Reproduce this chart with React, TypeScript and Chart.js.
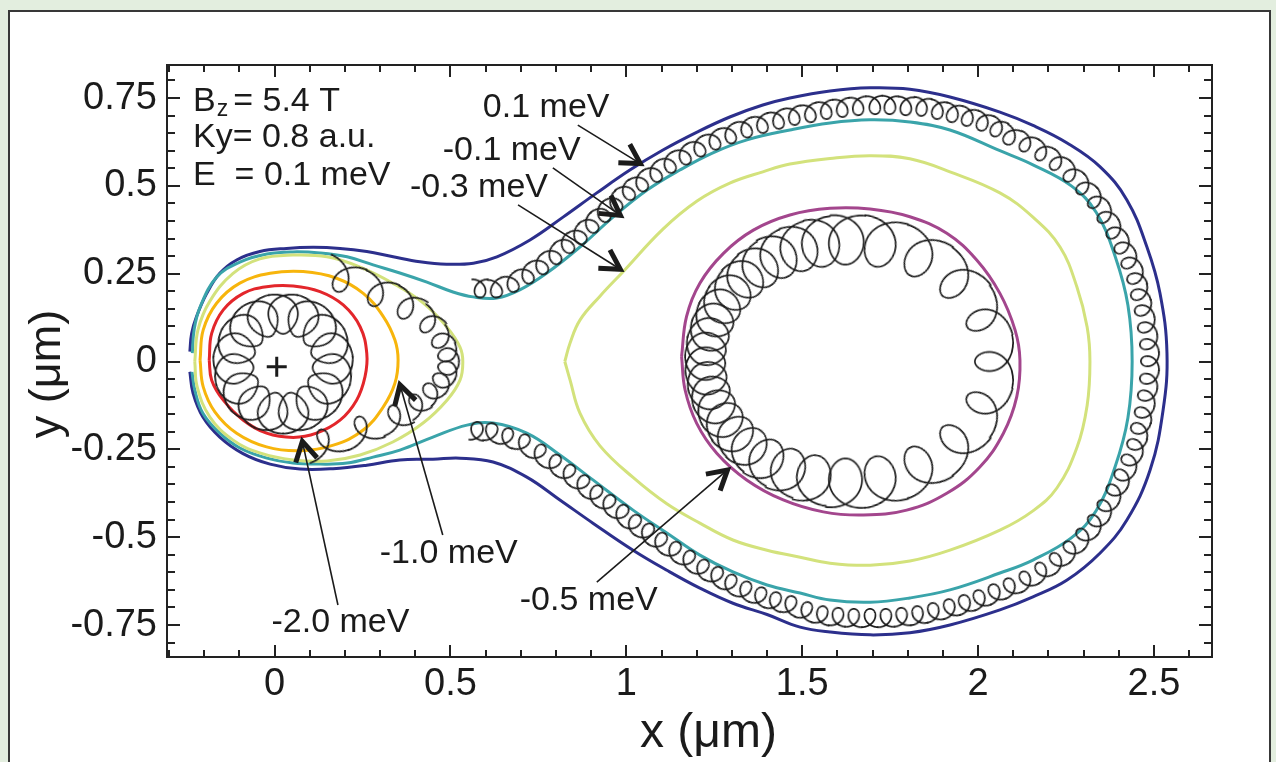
import React, { useEffect, useRef } from 'react';
import { Chart, registerables } from 'chart.js';

Chart.register(...registerables);

type Pt = [number, number];

// ---------------- axes ----------------
const xRange: Pt = [-0.306, 2.665];
const yRange: Pt = [-0.841, 0.844];
const xTickValues = [0, 0.5, 1, 1.5, 2, 2.5];
const yTickValues = [-0.75, -0.5, -0.25, 0, 0.25, 0.5, 0.75];
const xMinorStep = 0.1;
const yMinorStep = 0.05;
const xTitle = 'x (μm)';
const yTitle = 'y (μm)';

// ---------------- equipotential contours (x, y in μm) ----------------
const contourP01: Pt[] = [
  [-0.241, 0.028], [-0.236, 0.08], [-0.222, 0.128], [-0.193, 0.194], [-0.156, 0.251], [-0.108, 0.289],
  [-0.042, 0.313], [0.034, 0.322], [0.11, 0.325], [0.186, 0.322], [0.262, 0.313], [0.337, 0.298],
  [0.413, 0.284], [0.489, 0.277], [0.565, 0.28], [0.632, 0.298], [0.726, 0.346], [0.82, 0.411],
  [0.916, 0.48], [1.01, 0.545], [1.104, 0.602], [1.201, 0.653], [1.294, 0.696], [1.388, 0.73],
  [1.465, 0.75], [1.579, 0.77], [1.693, 0.779], [1.806, 0.775], [1.92, 0.753], [2.062, 0.71],
  [2.156, 0.672], [2.253, 0.622], [2.347, 0.554], [2.423, 0.46], [2.48, 0.326], [2.517, 0.195],
  [2.537, 0.024], [2.526, -0.138], [2.489, -0.309], [2.423, -0.451], [2.347, -0.545], [2.253, -0.622],
  [2.156, -0.67], [2.062, -0.707], [1.92, -0.75], [1.806, -0.772], [1.693, -0.778], [1.579, -0.77],
  [1.494, -0.756], [1.4, -0.72], [1.303, -0.688], [1.209, -0.645], [1.115, -0.594], [1.019, -0.537],
  [0.905, -0.46], [0.811, -0.394], [0.717, -0.329], [0.621, -0.286], [0.527, -0.275], [0.45, -0.278],
  [0.356, -0.28], [0.262, -0.295], [0.166, -0.305], [0.072, -0.306], [-0.013, -0.292], [-0.09, -0.262],
  [-0.156, -0.215], [-0.204, -0.158], [-0.232, -0.09], [-0.241, -0.029],
];

const contourM01: Pt[] = [
  [-0.234, 0.024], [-0.229, 0.09], [-0.212, 0.155], [-0.164, 0.241], [-0.099, 0.283], [-0.022, 0.306],
  [0.052, 0.312], [0.129, 0.309], [0.206, 0.298], [0.28, 0.275], [0.356, 0.252], [0.433, 0.226],
  [0.507, 0.198], [0.564, 0.184], [0.632, 0.181], [0.697, 0.204], [0.774, 0.252], [0.868, 0.326],
  [0.962, 0.411], [1.059, 0.488], [1.152, 0.545], [1.246, 0.594], [1.343, 0.631], [1.465, 0.659],
  [1.579, 0.679], [1.693, 0.688], [1.806, 0.682], [1.92, 0.659], [2.062, 0.6], [2.156, 0.56],
  [2.265, 0.5], [2.336, 0.424], [2.39, 0.298], [2.426, 0.16], [2.438, 0.0], [2.426, -0.16],
  [2.39, -0.298], [2.336, -0.424], [2.265, -0.502], [2.156, -0.565], [2.062, -0.602], [1.92, -0.65],
  [1.806, -0.673], [1.693, -0.685], [1.579, -0.679], [1.494, -0.659], [1.4, -0.636], [1.303, -0.599],
  [1.209, -0.551], [1.115, -0.488], [1.019, -0.423], [0.905, -0.337], [0.811, -0.266], [0.717, -0.204],
  [0.621, -0.175], [0.547, -0.181], [0.45, -0.215], [0.356, -0.252], [0.28, -0.272], [0.206, -0.289],
  [0.129, -0.292], [0.052, -0.289], [-0.022, -0.275], [-0.099, -0.246], [-0.156, -0.204], [-0.204, -0.147],
  [-0.227, -0.081], [-0.235, -0.03],
];

const contourM03Left: Pt[] = [
  [-0.227, 0.0], [-0.218, 0.09], [-0.184, 0.172], [-0.119, 0.25], [-0.042, 0.292], [0.052, 0.303],
  [0.149, 0.298], [0.243, 0.269], [0.336, 0.223], [0.422, 0.167], [0.49, 0.098], [0.527, 0.041],
  [0.535, -0.001], [0.527, -0.053], [0.49, -0.11], [0.422, -0.175], [0.336, -0.229], [0.243, -0.266],
  [0.149, -0.283], [0.052, -0.28], [-0.042, -0.26], [-0.119, -0.223], [-0.184, -0.158], [-0.22, -0.073],
];

const contourM03Right: Pt[] = [
  [0.825, 0.0], [0.84, 0.053], [0.868, 0.118], [0.925, 0.186], [0.99, 0.255], [1.104, 0.377],
  [1.201, 0.457], [1.294, 0.508], [1.388, 0.54], [1.465, 0.562], [1.579, 0.578], [1.693, 0.586],
  [1.806, 0.577], [1.92, 0.54], [2.062, 0.48], [2.156, 0.411], [2.233, 0.326], [2.281, 0.212],
  [2.31, 0.098], [2.318, 0.0], [2.31, -0.125], [2.281, -0.245], [2.224, -0.36], [2.156, -0.425],
  [2.062, -0.48], [1.92, -0.537], [1.806, -0.568], [1.693, -0.58], [1.579, -0.574], [1.494, -0.557],
  [1.4, -0.537], [1.303, -0.508], [1.209, -0.46], [1.115, -0.405], [1.019, -0.33], [0.925, -0.24],
  [0.868, -0.147], [0.84, -0.053],
];

const contourM05: Pt[] = [
  [1.157, 0.014], [1.171, 0.128], [1.209, 0.223], [1.276, 0.308], [1.361, 0.374], [1.465, 0.417],
  [1.579, 0.436], [1.693, 0.434], [1.806, 0.412], [1.911, 0.365], [1.996, 0.289], [2.062, 0.194],
  [2.105, 0.09], [2.119, 0.004], [2.11, -0.1], [2.072, -0.204], [2.005, -0.3], [1.911, -0.375],
  [1.797, -0.423], [1.674, -0.437], [1.56, -0.428], [1.446, -0.394], [1.342, -0.337], [1.257, -0.261],
  [1.2, -0.176], [1.167, -0.081],
];

const contourM10: Pt[] = [
  [-0.212, 0.004], [-0.203, 0.09], [-0.165, 0.166], [-0.099, 0.223], [-0.013, 0.251], [0.081, 0.256],
  [0.176, 0.237], [0.252, 0.194], [0.309, 0.128], [0.342, 0.061], [0.351, 0.004], [0.342, -0.062],
  [0.309, -0.129], [0.252, -0.195], [0.167, -0.238], [0.072, -0.254], [-0.023, -0.243], [-0.108, -0.204],
  [-0.17, -0.143], [-0.203, -0.072],
];

const contourM20: Pt[] = [
  [-0.186, 0.004], [-0.179, 0.08], [-0.146, 0.147], [-0.089, 0.194], [-0.023, 0.213], [0.053, 0.215],
  [0.129, 0.199], [0.195, 0.161], [0.243, 0.099], [0.262, 0.023], [0.257, -0.043], [0.233, -0.11],
  [0.186, -0.167], [0.119, -0.204], [0.053, -0.216], [-0.023, -0.204], [-0.089, -0.167], [-0.146, -0.11],
  [-0.179, -0.053],
];

// ---------------- electron trajectories: guiding-centre of each cyclotron loop ----------------
// ring round the potential minimum (E = -2.0 meV region)
const trajRing: Pt[] = [
  [0.024, 0.136], [0.082, 0.124], [0.13, 0.089], [0.159, 0.038], [0.165, -0.021], [0.147, -0.077],
  [0.107, -0.121], [0.054, -0.145], [-0.006, -0.145], [-0.059, -0.121], [-0.099, -0.077], [-0.117, -0.021],
  [-0.111, 0.038], [-0.082, 0.089], [-0.034, 0.124],
];
const trajRingR = [0.057];

// open orbit between -1.0 and -0.3 meV contours
const trajLeft: Pt[] = [
  [0.194, 0.241], [0.294, 0.198], [0.379, 0.158], [0.442, 0.11], [0.476, 0.061], [0.493, 0.019],
  [0.493, -0.019], [0.476, -0.056], [0.447, -0.087], [0.407, -0.121], [0.348, -0.158], [0.251, -0.195],
  [0.143, -0.232],
];
const trajLeftR = [0.045, 0.043, 0.04, 0.034, 0.031, 0.029, 0.029, 0.029, 0.029, 0.031, 0.036, 0.04, 0.04];

// outer open orbit along the -0.1 meV contour
const trajOuter: Pt[] = [
  [0.584, 0.208], [0.629, 0.208], [0.675, 0.223], [0.717, 0.246], [0.757, 0.272], [0.794, 0.3],
  [0.831, 0.332], [0.865, 0.357], [0.899, 0.389], [0.933, 0.42], [0.967, 0.45], [1.004, 0.483],
  [1.041, 0.508], [1.081, 0.535], [1.121, 0.561], [1.164, 0.585], [1.206, 0.608], [1.249, 0.628],
  [1.294, 0.646], [1.34, 0.663], [1.385, 0.676], [1.431, 0.688], [1.476, 0.699], [1.522, 0.707],
  [1.567, 0.716], [1.613, 0.722], [1.658, 0.727], [1.707, 0.73], [1.749, 0.73], [1.795, 0.727],
  [1.84, 0.725], [1.886, 0.716], [1.928, 0.707], [1.971, 0.696], [2.014, 0.682], [2.054, 0.665],
  [2.091, 0.642], [2.136, 0.622], [2.182, 0.596], [2.224, 0.568], [2.264, 0.534], [2.301, 0.497],
  [2.335, 0.457], [2.363, 0.414], [2.389, 0.369], [2.412, 0.326], [2.432, 0.283], [2.449, 0.238],
  [2.46, 0.192], [2.471, 0.147], [2.48, 0.098], [2.486, 0.05], [2.489, 0.001], [2.486, -0.05],
  [2.48, -0.098], [2.471, -0.147], [2.46, -0.192], [2.449, -0.238], [2.432, -0.283], [2.412, -0.326],
  [2.389, -0.369], [2.363, -0.414], [2.335, -0.457], [2.301, -0.497], [2.264, -0.534], [2.224, -0.568],
  [2.182, -0.596], [2.136, -0.622], [2.091, -0.642], [2.048, -0.659], [2.005, -0.676], [1.963, -0.69],
  [1.92, -0.702], [1.874, -0.713], [1.829, -0.722], [1.783, -0.727], [1.738, -0.73], [1.693, -0.73],
  [1.646, -0.73], [1.601, -0.727], [1.556, -0.722], [1.511, -0.71], [1.465, -0.693], [1.422, -0.682],
  [1.38, -0.668], [1.337, -0.651], [1.294, -0.631], [1.255, -0.609], [1.215, -0.588], [1.175, -0.562],
  [1.135, -0.537], [1.095, -0.511], [1.058, -0.485], [1.021, -0.46], [0.985, -0.431], [0.948, -0.403],
  [0.911, -0.376], [0.874, -0.347], [0.834, -0.317], [0.794, -0.289], [0.751, -0.26], [0.706, -0.232],
  [0.66, -0.215], [0.615, -0.201], [0.575, -0.198],
];
const trajOuterR = [0.026];

// closed orbit inside the -0.5 meV contour
const trajRight: Pt[] = [
  [1.622, 0.347], [1.722, 0.339], [1.836, 0.304], [1.942, 0.232], [2.021, 0.124], [2.048, 0.0],
  [2.021, -0.124], [1.942, -0.232], [1.836, -0.304], [1.722, -0.339], [1.622, -0.347], [1.529, -0.335],
  [1.456, -0.312], [1.394, -0.281], [1.345, -0.245], [1.307, -0.209], [1.276, -0.168], [1.254, -0.13],
  [1.238, -0.09], [1.228, -0.048], [1.224, -0.006], [1.226, 0.036], [1.235, 0.078], [1.249, 0.119],
  [1.269, 0.158], [1.299, 0.199], [1.335, 0.237], [1.377, 0.27], [1.43, 0.301], [1.489, 0.324],
  [1.55, 0.339],
];
const trajRightR = [
  0.071, 0.07, 0.066, 0.062, 0.058, 0.057, 0.058, 0.062, 0.066, 0.07, 0.071, 0.069, 0.066, 0.063, 0.061,
  0.059, 0.058, 0.057, 0.057, 0.057, 0.057, 0.057, 0.057, 0.057, 0.058, 0.059, 0.061, 0.063, 0.066,
  0.068, 0.07,
];

const minimumMarker: Pt[] = [[0.006, -0.015]];

// ---------------- annotations ----------------
const insetLines = ['B|z|= 5.4 T', 'Ky= 0.8 a.u.', 'E  = 0.1 meV'];
const insetX = -0.232;
const insetY = [0.713, 0.611, 0.502];

const levelLabels = ['0.1 meV', '-0.1 meV', '-0.3 meV', '-1.0 meV', '-2.0 meV', '-0.5 meV'];
const levelLabelPos: Pt[] = [[0.592, 0.696], [0.478, 0.574], [0.385, 0.468], [0.299, -0.573], [-0.009, -0.769], [0.697, -0.708]];
const arrowTail: Pt[] = [[0.862, 0.673], [0.791, 0.551], [0.692, 0.446], [0.478, -0.494], [0.18, -0.693], [0.916, -0.628]];
const arrowHead: Pt[] = [[1.047, 0.559], [0.99, 0.411], [0.99, 0.258], [0.354, -0.058], [0.077, -0.219], [1.294, -0.303]];

// ---------------- styles ----------------
const FONT = "'Liberation Sans', Arial, Helvetica, sans-serif";
const INK = '#1b1b1b';
const COL = {
  p01: '#2c2f8c',
  m01: '#3aa4aa',
  m03: '#d3e27c',
  m05: '#a3468d',
  m10: '#f7b50c',
  m20: '#e3262b',
};

// ---------------- cyclotron-loop marker (one loop per guiding-centre point) ----------------
const glyphCache = new Map<string, HTMLCanvasElement>();
function loopGlyph(dPrev: number, dNext: number, b: number, kappa: number): HTMLCanvasElement | null {
  if (!isFinite(dPrev) || !isFinite(dNext) || !isFinite(b) || !isFinite(kappa) || b <= 0 || dPrev <= 0) return null;
  const key = `${dPrev.toFixed(1)}|${dNext.toFixed(1)}|${b.toFixed(1)}|${kappa.toFixed(4)}`;
  const hit = glyphCache.get(key);
  if (hit) return hit;
  const aL = dPrev / (2 * Math.PI);
  const aR = dNext / (2 * Math.PI);
  const N = 140;
  const pts: number[][] = [];
  let mx = 1;
  let my = 1;
  for (let k = 0; k <= N; k++) {
    const t = -Math.PI + (2 * Math.PI * k) / N;
    const a = t < 0 ? aL : aR;
    const s = a * t - b * Math.sin(t);
    const n = b * Math.cos(t);
    let X = s;
    let Y = n;
    if (Math.abs(kappa) > 1e-5) {
      const R = 1 / kappa;
      X = (R - n) * Math.sin(s / R);
      Y = R - (R - n) * Math.cos(s / R);
    }
    pts.push([X, Y]);
    mx = Math.max(mx, Math.abs(X));
    my = Math.max(my, Math.abs(Y));
  }
  const halfW = Math.ceil(mx + 3);
  const halfH = Math.ceil(my + 3);
  const c = document.createElement('canvas');
  c.width = halfW * 2;
  c.height = halfH * 2;
  const g = c.getContext('2d')!;
  g.translate(halfW, halfH);
  g.beginPath();
  pts.forEach(([X, Y], k) => (k === 0 ? g.moveTo(X, Y) : g.lineTo(X, Y)));
  g.strokeStyle = INK;
  g.lineWidth = 1.7;
  g.lineJoin = 'round';
  g.lineCap = 'round';
  g.stroke();
  glyphCache.set(key, c);
  return c;
}

function orbitGeometry(chart: any, pts: Pt[], closed: boolean, i: number) {
  const xs = chart.scales.x;
  const ys = chart.scales.y;
  const n = pts.length;
  const pix = (k: number) => [xs.getPixelForValue(pts[k][0]), ys.getPixelForValue(pts[k][1])];
  const c = pix(i);
  const prev = i > 0 ? pix(i - 1) : closed ? pix(n - 1) : null;
  const next = i < n - 1 ? pix(i + 1) : closed ? pix(0) : null;
  const dP = prev ? Math.hypot(c[0] - prev[0], c[1] - prev[1]) : null;
  const dN = next ? Math.hypot(next[0] - c[0], next[1] - c[1]) : null;
  const a = prev || c;
  const b = next || c;
  const ang = (Math.atan2(b[1] - a[1], b[0] - a[0]) * 180) / Math.PI;
  let kappa = 0;
  if (prev && next && dP && dN) {
    let phi = Math.atan2(next[1] - c[1], next[0] - c[0]) - Math.atan2(c[1] - prev[1], c[0] - prev[0]);
    while (phi > Math.PI) phi -= 2 * Math.PI;
    while (phi < -Math.PI) phi += 2 * Math.PI;
    kappa = phi / ((dP + dN) / 2);
  }
  const pxPerUnit = xs.getPixelForValue(1) - xs.getPixelForValue(0);
  return { dPrev: dP ?? dN ?? 0, dNext: dN ?? dP ?? 0, ang, kappa, pxPerUnit };
}

function orbitDataset(pts: Pt[], radii: number[], closed: boolean) {
  return {
    type: 'scatter',
    data: pts.map(([x, y]) => ({ x, y })),
    showLine: false,
    pointRadius: 1,
    pointHoverRadius: 1,
    borderColor: INK,
    backgroundColor: INK,
    pointStyle: (ctx: any) => {
      if (ctx.type !== 'data') return 'circle';
      const i = ctx.dataIndex;
      const geo = orbitGeometry(ctx.chart, pts, closed, i);
      const r = radii.length > 1 ? radii[i] : radii[0];
      const g = loopGlyph(geo.dPrev, geo.dNext, r * geo.pxPerUnit, geo.kappa);
      return g || 'circle';
    },
    pointRotation: (ctx: any) => {
      if (ctx.type !== 'data') return 0;
      const geo = orbitGeometry(ctx.chart, pts, closed, ctx.dataIndex);
      return isFinite(geo.ang) ? geo.ang : 0;
    },
  };
}

function contourDataset(pts: Pt[], color: string, closed: boolean) {
  const list = closed ? [...pts, pts[0]] : pts;
  return {
    type: 'scatter',
    data: list.map(([x, y]) => ({ x, y })),
    showLine: true,
    borderColor: color,
    backgroundColor: color,
    borderWidth: 3,
    pointRadius: 0,
    tension: 0.4,
    fill: false,
  };
}

const toPx = (chart: any, p: Pt) => [chart.scales.x.getPixelForValue(p[0]), chart.scales.y.getPixelForValue(p[1])];

const overlayPlugin = {
  id: 'overlay',
  afterDraw(chart: any) {
    const ctx = chart.ctx as CanvasRenderingContext2D;
    const { left, right, top, bottom } = chart.chartArea;
    const xs = chart.scales.x;
    const ys = chart.scales.y;
    ctx.save();

    // minor / major ticks on all four sides, pointing inward
    ctx.strokeStyle = '#222';
    ctx.lineWidth = 2;
    ctx.beginPath();
    for (let k = Math.ceil(xRange[0] / xMinorStep); k * xMinorStep <= xRange[1]; k++) {
      const p = Math.round(xs.getPixelForValue(k * xMinorStep));
      if (p <= left + 1 || p >= right - 1) continue;
      const L = k % 5 === 0 ? 12 : 7;
      ctx.moveTo(p, bottom);
      ctx.lineTo(p, bottom - L);
      ctx.moveTo(p, top);
      ctx.lineTo(p, top + L);
    }
    for (let k = Math.ceil(yRange[0] / yMinorStep); k * yMinorStep <= yRange[1]; k++) {
      const p = Math.round(ys.getPixelForValue(k * yMinorStep));
      if (p <= top + 1 || p >= bottom - 1) continue;
      const L = k % 5 === 0 ? 13 : 8;
      ctx.moveTo(left, p);
      ctx.lineTo(left + L, p);
      ctx.moveTo(right, p);
      ctx.lineTo(right - L, p);
    }
    ctx.stroke();
    ctx.strokeRect(left, top, right - left, bottom - top);

    // axis titles
    ctx.fillStyle = INK;
    ctx.textAlign = 'center';
    ctx.textBaseline = 'alphabetic';
    ctx.font = `48px ${FONT}`;
    ctx.fillText(xTitle, (left + right) / 2 + 19, bottom + 90);
    ctx.save();
    ctx.font = `45px ${FONT}`;
    ctx.translate(60, (top + bottom) / 2 + 13);
    ctx.rotate(-Math.PI / 2);
    ctx.fillText(yTitle, 0, 0);
    ctx.restore();

    // arrows
    ctx.strokeStyle = INK;
    for (let i = 0; i < arrowTail.length; i++) {
      const [tx, ty] = toPx(chart, arrowTail[i]);
      const [hx, hy] = toPx(chart, arrowHead[i]);
      const ang = Math.atan2(hy - ty, hx - tx);
      const ex = hx - 3 * Math.cos(ang);
      const ey = hy - 3 * Math.sin(ang);
      ctx.lineWidth = 1.6;
      ctx.lineCap = 'butt';
      ctx.beginPath();
      ctx.moveTo(tx, ty);
      ctx.lineTo(ex, ey);
      ctx.stroke();
      const L = 22;
      const sp = 0.52;
      ctx.lineWidth = 5;
      ctx.lineJoin = 'miter';
      ctx.beginPath();
      ctx.moveTo(ex - L * Math.cos(ang - sp), ey - L * Math.sin(ang - sp));
      ctx.lineTo(ex, ey);
      ctx.lineTo(ex - L * Math.cos(ang + sp), ey - L * Math.sin(ang + sp));
      ctx.stroke();
    }

    // level labels
    ctx.textAlign = 'left';
    ctx.textBaseline = 'alphabetic';
    ctx.font = `34px ${FONT}`;
    for (let i = 0; i < levelLabels.length; i++) {
      const [lx, ly] = toPx(chart, levelLabelPos[i]);
      ctx.fillText(levelLabels[i], lx, ly);
    }

    // inset parameters
    const ix = xs.getPixelForValue(insetX);
    insetLines.forEach((line, i) => {
      const iy = ys.getPixelForValue(insetY[i]);
      const parts = line.split('|');
      if (parts.length === 3) {
        ctx.font = `34px ${FONT}`;
        ctx.fillText(parts[0], ix, iy);
        const w0 = ctx.measureText(parts[0]).width;
        ctx.font = `23px ${FONT}`;
        ctx.fillText(parts[1], ix + w0 + 1, iy + 5);
        const w1 = ctx.measureText(parts[1]).width;
        ctx.font = `34px ${FONT}`;
        ctx.fillText(parts[2], ix + w0 + w1 + 6, iy);
      } else {
        ctx.font = `34px ${FONT}`;
        ctx.fillText(line, ix, iy);
      }
    });

    ctx.restore();
  },
};

export default function App() {
  const ref = useRef<HTMLCanvasElement>(null);

  useEffect(() => {
    if (!ref.current) return;
    const datasets: any[] = [
      orbitDataset(trajRing, trajRingR, true),
      orbitDataset(trajLeft, trajLeftR, false),
      orbitDataset(trajOuter, trajOuterR, false),
      orbitDataset(trajRight, trajRightR, true),
      {
        type: 'scatter',
        data: minimumMarker.map(([x, y]) => ({ x, y })),
        pointStyle: 'cross',
        pointRadius: 10,
        borderWidth: 3,
        borderColor: INK,
        showLine: false,
      },
      contourDataset(contourM20, COL.m20, true),
      contourDataset(contourM10, COL.m10, true),
      contourDataset(contourM05, COL.m05, true),
      contourDataset(contourM03Left, COL.m03, true),
      contourDataset(contourM03Right, COL.m03, true),
      contourDataset(contourM01, COL.m01, false),
      contourDataset(contourP01, COL.p01, false),
    ];

    const chart = new Chart(ref.current, {
      type: 'scatter',
      data: { datasets },
      options: {
        responsive: false,
        devicePixelRatio: 1,
        animation: false,
        events: [],
        layout: { padding: { left: 0, right: 64, top: 65, bottom: 0 } },
        plugins: { legend: { display: false }, tooltip: { enabled: false } },
        scales: {
          x: {
            type: 'linear',
            min: xRange[0],
            max: xRange[1],
            grid: { display: false, drawTicks: false },
            border: { display: false },
            ticks: {
              color: INK,
              font: { family: FONT, size: 38 },
              padding: 5,
              maxRotation: 0,
              autoSkip: false,
              callback: (v: any) => String(v),
            },
            afterBuildTicks: (s: any) => {
              s.ticks = xTickValues.map((value) => ({ value }));
            },
            afterFit: (s: any) => {
              s.height = 105;
            },
          },
          y: {
            type: 'linear',
            min: yRange[0],
            max: yRange[1],
            grid: { display: false, drawTicks: false },
            border: { display: false },
            ticks: {
              color: INK,
              font: { family: FONT, size: 38 },
              padding: 10,
              autoSkip: false,
              callback: (v: any) => String(v),
            },
            afterBuildTicks: (s: any) => {
              s.ticks = yTickValues.map((value) => ({ value }));
            },
            afterFit: (s: any) => {
              s.width = 167;
            },
          },
        },
      } as any,
      plugins: [overlayPlugin],
    } as any);

    return () => chart.destroy();
  }, []);

  return (
    <div
      style={{
        position: 'fixed',
        left: 0,
        top: 0,
        width: 1276,
        height: 762,
        background: '#e3eedf',
        overflow: 'hidden',
      }}
    >
      <div
        style={{
          position: 'absolute',
          left: 8,
          top: 10,
          width: 1263,
          height: 800,
          boxSizing: 'border-box',
          border: '2px solid #383838',
          background: '#ffffff',
        }}
      />
      <canvas
        ref={ref}
        width={1276}
        height={762}
        style={{ position: 'absolute', left: 0, top: 0, width: 1276, height: 762 }}
      />
    </div>
  );
}
